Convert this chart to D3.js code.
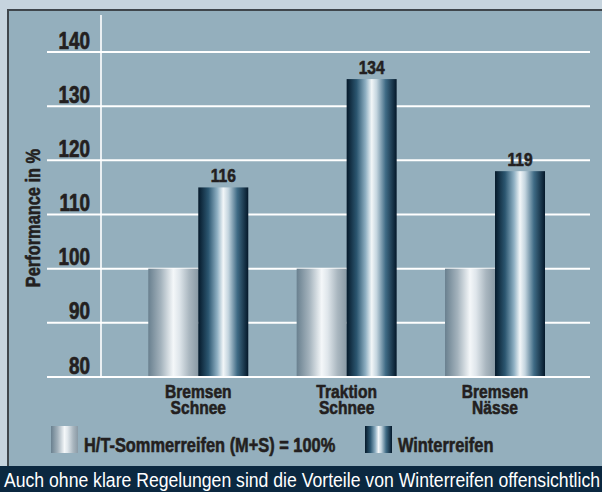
<!DOCTYPE html>
<html>
<head>
<meta charset="utf-8">
<script src="https://cdn.jsdelivr.net/npm/d3@7"></script>
<style>
  html, body { margin: 0; padding: 0; background: #c6d4de; }
  svg { display: block; }
</style>
</head>
<body>
<svg id="chart" width="602" height="492"></svg>
<script>
// ---- data ----
const categories = ["Bremsen Schnee", "Traktion Schnee", "Bremsen Nässe"];
const categoryLines = [["Bremsen", "Schnee"], ["Traktion", "Schnee"], ["Bremsen", "Nässe"]];
const series = ["summer", "winter"];
const seriesNames = ["H/T-Sommerreifen (M+S) = 100%", "Winterreifen"];
const summerValues = [100, 100, 100];
const winterValues = [115, 135, 118];      // bar heights as drawn
const winterLabels = ["116", "134", "119"]; // printed value labels
const yTicks = [80, 90, 100, 110, 120, 130, 140];
const yTitle = "Performance in %";
const footerText = "Auch ohne klare Regelungen sind die Vorteile von Winterreifen offensichtlich";

const FONT = "'Liberation Sans', Arial, sans-serif";
const SX = 0.82; // horizontal condensing to mimic a narrow typeface
const TEXT = "#231f20";

const svg = d3.select("#chart");
const defs = svg.append("defs");

function grad(id, stops) {
  const g = defs.append("linearGradient").attr("id", id)
    .attr("x1", "0%").attr("x2", "100%").attr("y1", "0%").attr("y2", "0%");
  stops.forEach(s => g.append("stop").attr("offset", s[0]).attr("stop-color", s[1]));
}
grad("gSummer", [["0%", "#69808f"], ["25%", "#a3b2bc"], ["50%", "#f4f7f9"], ["62%", "#dfe6eb"], ["82%", "#a9b6bf"], ["100%", "#8a9aa5"]]);
grad("gWinter", [["0%", "#05192a"], ["20%", "#2b5670"], ["38%", "#8fb0c3"], ["50%", "#f2f6f8"], ["60%", "#c4d5df"], ["78%", "#3f6b85"], ["100%", "#04182a"]]);

// condensed, heavy text helper
function ctext(parent, x, yy, str, opts) {
  const g = parent.append("g").attr("transform", `translate(${x},${yy}) ${opts.rotate ? "rotate(" + opts.rotate + ")" : ""} scale(${SX},1)`);
  return g.append("text").attr("x", 0).attr("y", 0)
    .attr("text-anchor", opts.anchor || "start")
    .attr("font-family", FONT)
    .attr("font-weight", "bold")
    .attr("font-size", opts.size)
    .attr("fill", TEXT)
    .attr("stroke", TEXT).attr("stroke-width", opts.stroke == null ? 0.6 : opts.stroke)
    .attr("stroke-linejoin", "round")
    .text(str);
}

// ---- panel ----
svg.append("rect").attr("x", 0).attr("y", 0).attr("width", 602).attr("height", 492).attr("fill", "#c6d4de");
svg.append("rect").attr("x", 9).attr("y", 11).attr("width", 593).attr("height", 456).attr("fill", "#94afbd");
svg.append("line").attr("x1", 8).attr("x2", 602).attr("y1", 10).attr("y2", 10).attr("stroke", "#3f464c").attr("stroke-width", 2);
svg.append("line").attr("x1", 8).attr("x2", 8).attr("y1", 9).attr("y2", 467).attr("stroke", "#3f464c").attr("stroke-width", 2);

// ---- scales ----
const y = d3.scaleLinear().domain([80, 140]).range([377, 52]);
const x0 = d3.scaleBand().domain(categories).range([124.1, 569.2]).paddingInner(0.326).paddingOuter(0.163);
const x1 = d3.scaleBand().domain(series).range([0, x0.bandwidth()]).padding(0);

// gridlines
svg.append("g").selectAll("line").data(yTicks).join("line")
  .attr("x1", 47).attr("x2", 590)
  .attr("y1", d => y(d)).attr("y2", d => y(d))
  .attr("stroke", "#ffffff").attr("stroke-width", 2);
// vertical axis line
svg.append("line").attr("x1", 101).attr("x2", 101).attr("y1", 15).attr("y2", y(80))
  .attr("stroke", "#ffffff").attr("stroke-width", 1.6);

// tick labels
const tickG = svg.append("g");
yTicks.forEach(t => ctext(tickG, 90, y(t) - 3.5, t, { anchor: "end", size: 23, stroke: 0.7 }));

// y title
ctext(svg, 40, 218, yTitle, { anchor: "middle", size: 20, rotate: -90 });

// ---- bars ----
const rows = categories.map((c, i) => ({ cat: c, vals: [
  { key: "summer", value: summerValues[i] },
  { key: "winter", value: winterValues[i], label: winterLabels[i] }
]}));

const groups = svg.append("g").selectAll("g").data(rows).join("g")
  .attr("transform", d => `translate(${x0(d.cat)},0)`);

groups.selectAll("rect").data(d => d.vals).join("rect")
  .attr("x", d => x1(d.key))
  .attr("width", x1.bandwidth())
  .attr("y", d => y(d.value))
  .attr("height", d => y(80) - y(d.value) - 1)
  .attr("fill", d => d.key === "summer" ? "url(#gSummer)" : "url(#gWinter)");

groups.each(function(d) {
  const g = d3.select(this);
  d.vals.filter(v => v.label).forEach(v => {
    ctext(g, x1(v.key) + x1.bandwidth() / 2, y(v.value) - 5, v.label, { anchor: "middle", size: 19 });
  });
});

// category labels
const catG = svg.append("g");
categories.forEach((c, i) => {
  categoryLines[i].forEach((ln, j) => {
    ctext(catG, x0(c) + x0.bandwidth() / 2, 398 + j * 15.5, ln, { anchor: "middle", size: 19 });
  });
});

// ---- legend ----
const legendX = [51, 365];
series.forEach((s, i) => {
  svg.append("rect").attr("x", legendX[i]).attr("y", 426).attr("width", 27).attr("height", 27)
    .attr("fill", s === "summer" ? "url(#gSummer)" : "url(#gWinter)");
  ctext(svg, legendX[i] + 33, 452, seriesNames[i], { size: 20 });
});

// ---- footer ----
svg.append("rect").attr("x", 0).attr("y", 466).attr("width", 602).attr("height", 26).attr("fill", "#0b2840");
svg.append("text").attr("x", 4).attr("y", 487)
  .attr("font-family", FONT).attr("font-size", 20).attr("fill", "#ffffff")
  .attr("textLength", 596).attr("lengthAdjust", "spacingAndGlyphs")
  .text(footerText);
</script>
</body>
</html>
